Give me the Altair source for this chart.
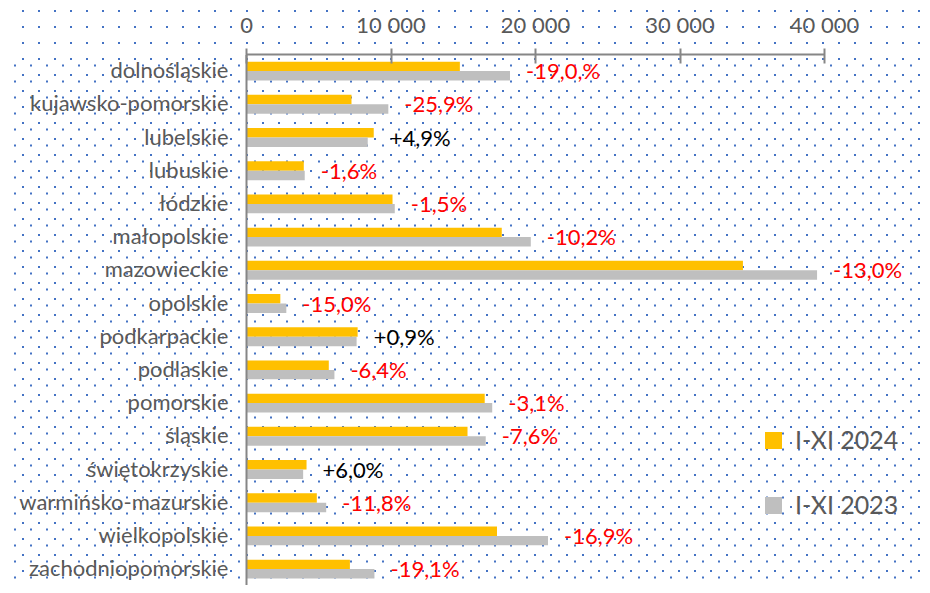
import altair as alt
import pandas as pd

# ---------------- data ----------------
regions = [
    "dolnośląskie", "kujawsko-pomorskie", "lubelskie", "lubuskie", "łódzkie",
    "małopolskie", "mazowieckie", "opolskie", "podkarpackie", "podlaskie",
    "pomorskie", "śląskie", "świętokrzyskie", "warmińsko-mazurskie",
    "wielkopolskie", "zachodniopomorskie",
]
values_2024 = [14800, 7300, 8840, 4000, 10140, 17700, 34390, 2375, 7725, 5730,
               16520, 15330, 4190, 4900, 17370, 7190]
values_2023 = [18270, 9850, 8425, 4065, 10295, 19710, 39520, 2790, 7655, 6120,
               17040, 16590, 3955, 5550, 20900, 8890]
change_labels = ["-19,0,%", "-25,9%", "+4,9%", "-1,6%", "-1,5%", "-10,2%", "-13,0%",
                 "-15,0%", "+0,9%", "-6,4%", "-3,1%", "-7,6%", "+6,0%", "-11,8%",
                 "-16,9%", "-19,1%"]
series_names = ["I-XI 2024", "I-XI 2023"]
series_colors = ["#FFC000", "#BFBFBF"]
tick_values = [0, 10000, 20000, 30000, 40000]

bars_df = pd.DataFrame({
    "region": regions * 2,
    "series": [series_names[0]] * len(regions) + [series_names[1]] * len(regions),
    "value": values_2024 + values_2023,
})
labels_df = pd.DataFrame({
    "region": regions,
    "label": change_labels,
    "xpos": [max(a, b) for a, b in zip(values_2024, values_2023)],
})
axis_line_df = pd.DataFrame({"start": [tick_values[0]], "end": [tick_values[-1]]})

# ---------------- layout (pixels) ----------------
W, H = 914, 577
ZERO_PX = 238
PX_PER_UNIT = (816 - ZERO_PX) / 40000
X_MIN = -ZERO_PX / PX_PER_UNIT
X_MAX = (W - ZERO_PX) / PX_PER_UNIT
Y_TOP = 46.5
STEP = 33.2

FONT = "Lato"
TEXT_GRAY = "#595959"
LINE_GRAY = "#868686"
DOT_BLUE = "#4472C4"

x_scale = alt.Scale(domain=[X_MIN, X_MAX], nice=False, zero=False)
y_scale = alt.Scale(domain=regions, range=[Y_TOP, Y_TOP + STEP * len(regions)],
                    paddingInner=0.43, paddingOuter=0.215)

# dotted background pattern drawn as dashed grid lines (decoration only)
def px_to_val(px):
    return X_MIN + px / PX_PER_UNIT

dots_a = [px_to_val(7 + 16 * k) for k in range(57)]
dots_b = [px_to_val(15 + 16 * k) for k in range(57)]

def dot_axis(vals, dash_offset):
    return alt.Axis(orient="top", values=vals, grid=True, gridColor=DOT_BLUE,
                    gridWidth=2, gridDash=[2, 14], gridDashOffset=dash_offset,
                    gridOpacity=1, labels=False, ticks=False, domain=False,
                    title=None, translate=0)

y_enc = alt.Y(
    "region:N", sort=regions, scale=y_scale,
    axis=alt.Axis(orient="left", offset=-ZERO_PX, domain=True, domainColor=LINE_GRAY,
                  domainWidth=2, ticks=False, tickSize=0, labelFont=FONT,
                  labelFontSize=22, labelColor=TEXT_GRAY, labelPadding=18,
                  labelLimit=400, title=None, zindex=1, grid=False),
)

bars = alt.Chart(bars_df).mark_bar().encode(
    x=alt.X("value:Q", scale=x_scale,
            axis=alt.Axis(orient="top", values=tick_values, offset=-55, domain=False,
                          ticks=True, tickSize=15, tickWidth=2, tickColor=LINE_GRAY,
                          labelFont=FONT, labelFontSize=22, labelColor=TEXT_GRAY,
                          labelPadding=11, labelFlush=False,
                          labelExpr="replace(format(datum.value, ','), ',', ' ')",
                          grid=False, title=None, zindex=1)),
    y=y_enc,
    yOffset=alt.YOffset("series:N", sort=series_names),
    color=alt.Color("series:N", sort=series_names,
                    scale=alt.Scale(domain=series_names, range=series_colors),
                    legend=alt.Legend(orient="none", legendX=753, legendY=420,
                                      title=None, symbolType="square", symbolSize=289,
                                      symbolStrokeWidth=0, labelFont=FONT,
                                      labelFontSize=25, labelColor=TEXT_GRAY,
                                      labelOffset=9, rowPadding=39, padding=0)),
)

text = alt.Chart(labels_df).mark_text(
    align="left", baseline="middle", dx=16, dy=1, font=FONT, fontSize=22
).encode(
    x=alt.X("xpos:Q", scale=x_scale, axis=dot_axis(dots_a, 6)),
    y=y_enc,
    text="label:N",
    color=alt.condition("indexof(datum.label, '-') == 0", alt.value("#FF0000"),
                        alt.value("#000000")),
)

axis_line = alt.Chart(axis_line_df).mark_rule(color=LINE_GRAY, strokeWidth=2).encode(
    x=alt.X("start:Q", scale=x_scale, axis=dot_axis(dots_b, 14)),
    x2="end:Q",
    y=alt.value(Y_TOP),
)

chart = alt.layer(bars, text, axis_line).resolve_axis(x="independent").properties(
    width=W, height=H, padding=0, autosize=alt.AutoSizeParams(type="none"),
    background="white",
).configure_view(stroke=None)

chart.save("out.html", embed_options={"renderer": "svg", "actions": False})
